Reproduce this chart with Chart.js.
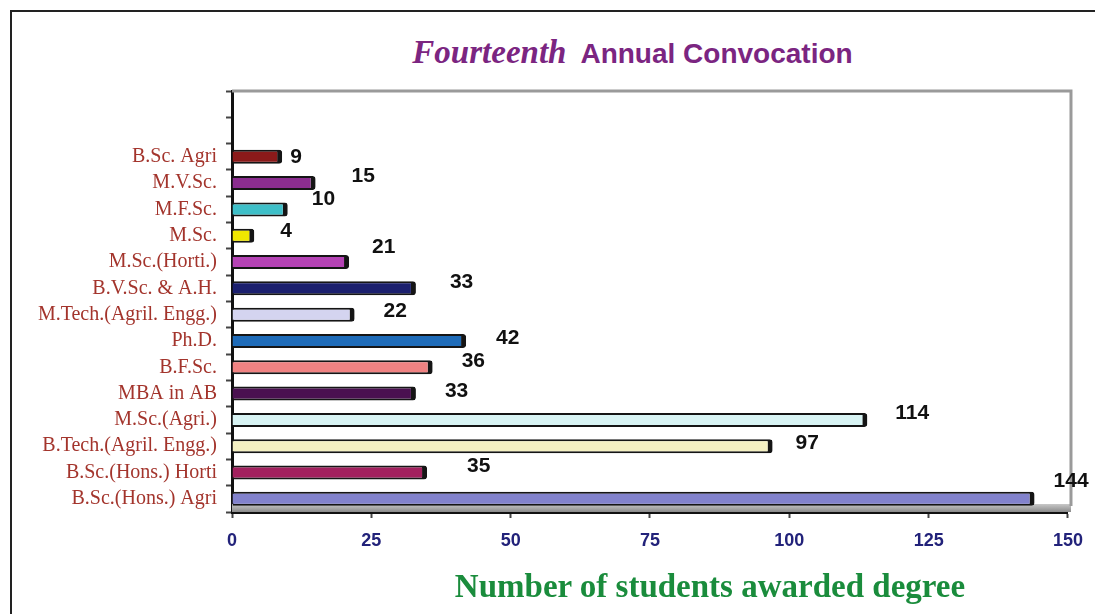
<!DOCTYPE html>
<html>
<head>
<meta charset="utf-8">
<script src="https://cdn.jsdelivr.net/npm/chart.js@4.4.1/dist/chart.umd.min.js"></script>
<style>
  html, body { margin: 0; padding: 0; background: #fff; }
  #wrap { position: relative; width: 1095px; height: 614px; overflow: hidden; }
  #frame { position: absolute; left: 10px; top: 10px; width: 1200px; height: 700px;
           border-left: 2px solid #222; border-top: 2px solid #222; }
  #title { position: absolute; left: 0; width: 1265px; top: 34px; text-align: center;
           color: #7b2581; white-space: nowrap; }
  #title .a { font: italic bold 33px "Liberation Serif", serif; }
  #title .b { font: bold 28px "Liberation Sans", Arial, sans-serif; margin-left: 14px; }
  #xtitle { position: absolute; left: 0; width: 1420px; top: 568px; text-align: center;
            color: #1a8c3c; font: bold 33px "Liberation Serif", serif; white-space: nowrap; }
  canvas { position: absolute; left: 0; top: 0; }
</style>
</head>
<body>
<div id="wrap">
  <div id="frame"></div>
  <div id="title"><span class="a">Fourteenth</span><span class="b">Annual Convocation</span></div>
  <canvas id="myBarChart" width="1095" height="614"></canvas>
  <div id="xtitle">Number of students awarded degree</div>
</div>
<script>
// degree programmes, top to bottom (two empty slots at the top of the plot)
const degrees = ['', '', 'B.Sc. Agri', 'M.V.Sc.', 'M.F.Sc.', 'M.Sc.', 'M.Sc.(Horti.)',
    'B.V.Sc. & A.H.', 'M.Tech.(Agril. Engg.)', 'Ph.D.', 'B.F.Sc.', 'MBA in AB',
    'M.Sc.(Agri.)', 'B.Tech.(Agril. Engg.)', 'B.Sc.(Hons.) Horti', 'B.Sc.(Hons.) Agri'];
const students = [null, null, 9, 15, 10, 4, 21, 33, 22, 42, 36, 33, 114, 97, 35, 144];
const xTicks = [0, 25, 50, 75, 100, 125, 150];

// bar fills
const barColors = ['#fff', '#fff', '#8b1a1a', '#8b2d8f', '#3ebfc8', '#f0e800', '#b543b5',
    '#1b1f6e', '#d4d4f0', '#1e6bb8', '#f08282', '#4a1050', '#d8f4f4', '#f4f0c2',
    '#a3205e', '#8282cc'];
// the value labels were nudged by hand in the original (px, relative to bar end)
const labelDx = [0, 0, 8, 36, 24, 26, 23, 34, 29, 30, 29, 29, 28, 23, 40, 19];
const labelDy = [0, 0, 0, -7, -10, -5, -15, -6, -3, -3, -6, -2, -7, -3, -6, -18];

const plotFrame = {
    id: 'plotFrame',
    beforeDatasetsDraw(chart) {
        const { ctx, chartArea: a } = chart;
        ctx.save();
        // grey floor under the bars
        let g = ctx.createLinearGradient(0, a.bottom - 8, 0, a.bottom);
        g.addColorStop(0, '#c8c8c8');
        g.addColorStop(1, '#8a8a8a');
        ctx.fillStyle = g;
        ctx.fillRect(a.left, a.bottom - 8, a.right - a.left + 3, 8);
        // top and right border
        ctx.strokeStyle = '#9a9a9a';
        ctx.lineWidth = 3;
        ctx.beginPath();
        ctx.moveTo(a.left, a.top);
        ctx.lineTo(a.right + 3, a.top);
        ctx.lineTo(a.right + 3, a.bottom - 6);
        ctx.stroke();
        ctx.restore();
    },
    afterDatasetsDraw(chart) {
        const { ctx } = chart;
        const meta = chart.getDatasetMeta(0);
        ctx.save();
        ctx.font = 'bold 21px "Liberation Sans", Arial, sans-serif';
        ctx.fillStyle = '#111';
        ctx.textBaseline = 'middle';
        meta.data.forEach((bar, i) => {
            if (students[i] == null) return;
            ctx.fillText(String(students[i]), bar.x + labelDx[i], bar.y + labelDy[i]);
        });
        ctx.restore();
    }
};

let ctx = document.getElementById('myBarChart').getContext('2d');
new Chart(ctx, {
    type: 'bar',
    data: {
        labels: degrees,
        datasets: [{
            data: students,
            backgroundColor: barColors,
            borderColor: '#151515',
            borderWidth: { top: 2, bottom: 2, left: 0, right: 5 },
            borderSkipped: 'start',
            borderRadius: { topRight: 3, bottomRight: 3 },
            categoryPercentage: 1,
            barPercentage: 0.53
        }]
    },
    options: {
        indexAxis: 'y',
        responsive: false,
        animation: false,
        layout: { padding: { left: 0, top: 91, right: 24, bottom: 0 } },
        plugins: { legend: { display: false }, tooltip: { enabled: false } },
        scales: {
            x: {
                min: 0, max: 150,
                afterBuildTicks: (s) => { s.ticks = xTicks.map(v => ({ value: v })); },
                afterFit: (s) => { s.height = 102; },
                border: { color: '#111', width: 3 },
                grid: { drawOnChartArea: false, tickLength: 6, color: '#444', tickWidth: 2 },
                ticks: {
                    color: '#22227a', padding: 12,
                    font: { family: '"Liberation Sans", Arial, sans-serif', size: 18, weight: 'bold' }
                }
            },
            y: {
                afterFit: (s) => { s.width = 232; },
                border: { color: '#111', width: 3 },
                grid: { drawOnChartArea: false, tickLength: 6, color: '#444', tickWidth: 2 },
                ticks: {
                    autoSkip: false,
                    color: '#a3342c', padding: 9,
                    font: { family: '"Liberation Serif", "Times New Roman", serif', size: 20 }
                }
            }
        }
    },
    plugins: [plotFrame]
});
</script>
</body>
</html>
